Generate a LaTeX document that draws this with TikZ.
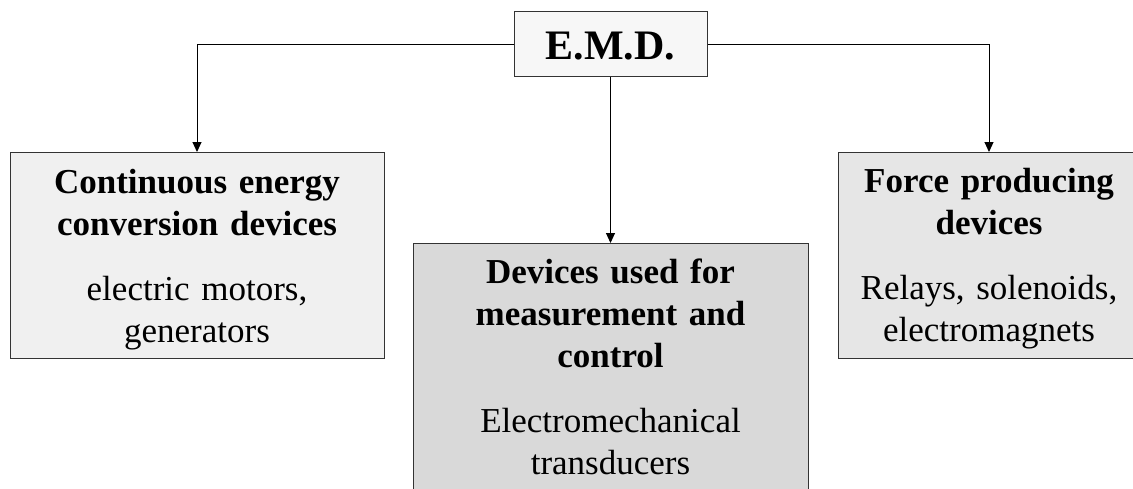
\documentclass[tikz,border=0pt]{standalone}
\usepackage{fontspec}
\setmainfont{Liberation Serif}
\usetikzlibrary{arrows.meta}
\definecolor{emdfill}{HTML}{F7F7F7}
\definecolor{leftfill}{HTML}{F0F0F0}
\definecolor{midfill}{HTML}{D9D9D9}
\definecolor{rightfill}{HTML}{E6E6E6}
\definecolor{edge}{HTML}{333333}
\tikzset{
  box/.style={draw=edge, line width=1pt, inner sep=0pt, align=center,
    anchor=north, font=\fontsize{35}{42}\selectfont},
  link/.style={draw=black, line width=1pt, -{Triangle[length=10pt,width=9pt]}},
  plain/.style={draw=black, line width=1pt}
}
\begin{document}
\begin{tikzpicture}[x=1pt,y=-1pt]
\useasboundingbox (0,0) rectangle (1133,488);
\node[box, fill=emdfill, text width=193pt, text height=48pt, text depth=17pt,
  font=\fontsize{42}{50}\selectfont\bfseries] (emd) at (610.5,11) {E.M.D.};
\node[box, fill=leftfill, text width=374pt, text height=41pt, text depth=165pt] (cont) at (197,152)
  {\textbf{Continuous energy}\\\textbf{conversion devices}\\[23pt]electric motors,\\generators};
\node[box, fill=midfill, text width=395pt, text height=40pt, text depth=220pt] (meas) at (610.5,243)
  {\textbf{Devices used for}\\\textbf{measurement and}\\\textbf{control}\\[23pt]Electromechanical\\transducers};
\node[box, fill=rightfill, text width=302pt, text height=40pt, text depth=166pt] (force) at (989,152)
  {\textbf{Force producing}\\\textbf{devices}\\[23pt]Relays, solenoids,\\electromagnets};
\draw[link] (emd.west) -| (cont.north);
\draw[link] (emd.south) -- (meas.north);
\draw[link] (emd.east) -| (force.north);
\end{tikzpicture}
\end{document}
